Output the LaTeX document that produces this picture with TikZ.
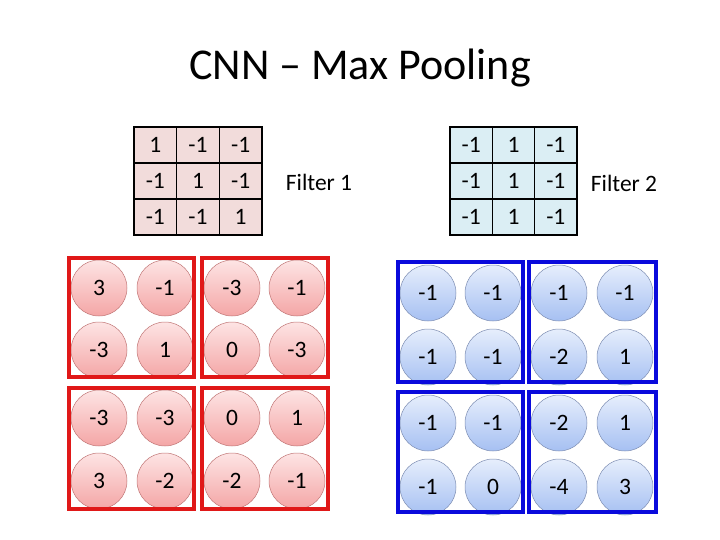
\documentclass[tikz,border=0pt]{standalone}
\usepackage{fontspec}
\setmainfont{Carlito}
\definecolor{redfill}{HTML}{F2DCDB}
\definecolor{bluefill}{HTML}{DBEEF4}
\definecolor{rtop}{HTML}{FDE4E4}
\definecolor{rbot}{HTML}{F4A6A6}
\definecolor{rline}{HTML}{C07575}
\definecolor{btop}{HTML}{E6EEFC}
\definecolor{bbot}{HTML}{A6C0F2}
\definecolor{bline}{HTML}{7D8DB2}
\definecolor{rbox}{HTML}{E01818}
\definecolor{bbox}{HTML}{0A0ADC}
\tikzset{
  txt/.style={font=\fontsize{23.5}{26}\selectfont},
  cellA/.style={txt, draw=black, line width=1.6pt, fill=redfill, minimum width=42.67pt, minimum height=36pt, inner sep=0pt},
  cellB/.style={txt, draw=black, line width=1.6pt, fill=bluefill, minimum width=42.33pt, minimum height=36pt, inner sep=0pt},
  rcirc/.style={txt, circle, draw=rline, line width=0.5pt, top color=rtop, bottom color=rbot, minimum size=56pt, inner sep=0pt},
  bcirc/.style={txt, circle, draw=bline, line width=0.5pt, top color=btop, bottom color=bbot, minimum size=56pt, inner sep=0pt},
  rpool/.style={draw=rbox, line width=4pt},
  bpool/.style={draw=bbox, line width=4pt},
  lbl/.style={txt, inner sep=0pt}
}
\begin{document}
\begin{tikzpicture}[x=1pt,y=-1pt]
\useasboundingbox (0,0) rectangle (720,540);
\node[font=\fontsize{44}{48}\selectfont, inner sep=0pt] (title) at (360,68) {CNN – Max Pooling};
% Filter 1
\foreach \v [count=\i from 0] in {1,-1,-1,-1,1,-1,-1,-1,1}{
  \pgfmathtruncatemacro{\c}{mod(\i,3)}
  \pgfmathtruncatemacro{\r}{int(\i/3)}
  \node[cellA] (fa\i) at ({155.33+42.67*\c},{145+36*\r}) {\v};
}
\node[lbl] (flabA) at (319,182) {Filter 1};
% Filter 2
\foreach \v [count=\i from 0] in {-1,1,-1,-1,1,-1,-1,1,-1}{
  \pgfmathtruncatemacro{\c}{mod(\i,3)}
  \pgfmathtruncatemacro{\r}{int(\i/3)}
  \node[cellB] (fb\i) at ({471.17+42.33*\c},{145+36*\r}) {\v};
}
\node[lbl] (flabB) at (624,183) {Filter 2};
% Red feature map
\foreach \v [count=\i from 0] in {3,-1,-3,-1,-3,1,0,-3,-3,-3,0,1,3,-2,-2,-1}{
  \pgfmathtruncatemacro{\c}{mod(\i,4)}
  \pgfmathtruncatemacro{\r}{int(\i/4)}
  \pgfmathsetmacro{\xx}{{99,165,232,297}[\c]}
  \pgfmathsetmacro{\yy}{{288,350,418,481}[\r]}
  \node[rcirc] (ra\i) at (\xx,\yy) {\v};
}
\draw[rpool] (69,258) rectangle (194,377);
\draw[rpool] (202,258) rectangle (328,377);
\draw[rpool] (69,388) rectangle (194,509);
\draw[rpool] (202,388) rectangle (328,509);
% Blue feature map
\foreach \v [count=\i from 0] in {-1,-1,-1,-1,-1,-1,-2,1,-1,-1,-2,1,-1,0,-4,3}{
  \pgfmathtruncatemacro{\c}{mod(\i,4)}
  \pgfmathtruncatemacro{\r}{int(\i/4)}
  \pgfmathsetmacro{\xx}{{428,493,559,625}[\c]}
  \pgfmathsetmacro{\yy}{{293,357,423,487}[\r]}
  \node[bcirc] (ba\i) at (\xx,\yy) {\v};
}
\draw[bpool] (398,262) rectangle (523,382);
\draw[bpool] (529,262) rectangle (656,382);
\draw[bpool] (398,392) rectangle (523,512);
\draw[bpool] (529,392) rectangle (656,512);
\end{tikzpicture}
\end{document}
